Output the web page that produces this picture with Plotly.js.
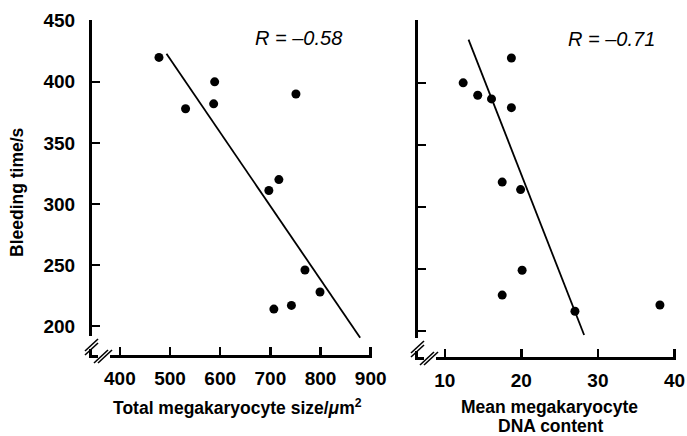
<!DOCTYPE html>
<html>
<head>
<meta charset="utf-8">
<script src="https://cdn.plot.ly/plotly-3.0.1.min.js"></script>
<style>html,body{margin:0;padding:0;background:#fff;}#chart{width:687px;height:436px;}</style>
</head>
<body>
<div id="chart"></div>
<script>
// ---- data ----
const sizeX = [478, 531, 589, 587, 751, 697, 717, 769, 799, 707, 742];
const sizeY = [420, 378, 400, 382, 390, 311, 320, 246, 228, 214, 217];
const dnaX = [12.4, 14.3, 16.1, 18.7, 18.7, 17.5, 19.9, 20.1, 17.5, 27.0, 38.1];
const dnaY = [400, 390, 387, 420, 380, 320, 314, 249, 229, 216, 221];
const fitSizeX = [493, 879];
const fitSizeY = [423, 190.5];
const fitDnaX = [13.1, 28.2];
const fitDnaY = [434.8, 196.8];
const sizeTicks = [400, 500, 600, 700, 800, 900];
const dnaTicks = [10, 20, 30, 40];
const timeTicks = [200, 250, 300, 350, 400, 450];
const rSize = "R = \u20130.58";
const rDna = "R = \u20130.71";

const W = 687, H = 436;
const px = x => x / W;
const py = y => 1 - y / H;
const bold = arr => arr.map(v => '<b>' + v + '</b>');

const font = 'Liberation Sans, Arial, sans-serif';
const markerStyle = {color: '#000', size: 9};
const lineStyle = {color: '#000', width: 1.8};

const traces = [
  {x: sizeX, y: sizeY, type: 'scatter', mode: 'markers', marker: markerStyle, xaxis: 'x', yaxis: 'y', hoverinfo: 'none'},
  {x: fitSizeX, y: fitSizeY, type: 'scatter', mode: 'lines', line: lineStyle, xaxis: 'x', yaxis: 'y', hoverinfo: 'none'},
  {x: dnaX, y: dnaY, type: 'scatter', mode: 'markers', marker: markerStyle, xaxis: 'x2', yaxis: 'y2', hoverinfo: 'none'},
  {x: fitDnaX, y: fitDnaY, type: 'scatter', mode: 'lines', line: lineStyle, xaxis: 'x2', yaxis: 'y2', hoverinfo: 'none'}
];

const axisCommon = {
  showline: true, linecolor: '#000', linewidth: 3,
  ticks: 'inside', ticklen: 8, tickwidth: 2.5, tickcolor: '#000',
  showgrid: false, zeroline: false, fixedrange: true,
  tickfont: {family: font, size: 19, color: '#000'}
};

// axis-break decorations (white gap + double slash) near each corner
function breaks(ax, ay) {
  const s = [];
  const rect = (x0, y0, x1, y1) => ({type: 'rect', xref: 'paper', yref: 'paper', layer: 'above',
    x0: px(x0), x1: px(x1), y0: py(y1), y1: py(y0), fillcolor: '#fff', line: {width: 0}});
  const seg = (x0, y0, x1, y1) => ({type: 'line', xref: 'paper', yref: 'paper', layer: 'above',
    x0: px(x0), y0: py(y0), x1: px(x1), y1: py(y1), line: {color: '#000', width: 1.6}});
  s.push(rect(ax - 3, ay - 19, ax + 3, ay - 6));
  s.push(seg(ax - 7, ay - 4, ax + 6, ay - 16));
  s.push(seg(ax - 7, ay - 0, ax + 6, ay - 12));
  s.push(rect(ax + 6, ay - 3, ax + 18, ay + 3));
  s.push(seg(ax + 2, ay + 8, ax + 16, ay - 5));
  s.push(seg(ax + 6, ay + 8, ax + 20, ay - 5));
  return s;
}

const titleFont = {family: font, size: 17.5, color: '#000'};

const layout = {
  width: W, height: H,
  margin: {l: 0, r: 0, t: 0, b: 0},
  paper_bgcolor: '#fff', plot_bgcolor: '#fff',
  showlegend: false,
  xaxis: Object.assign({}, axisCommon, {domain: [px(92), px(372)], range: [344.5, 902.6],
    tickvals: sizeTicks, ticktext: bold(sizeTicks), ticklabelstandoff: 4, anchor: 'y'}),
  yaxis: Object.assign({}, axisCommon, {domain: [py(355), py(20)], range: [176.4, 450.6],
    tickvals: timeTicks, ticktext: bold(timeTicks), ticklabelstandoff: 10, anchor: 'x'}),
  xaxis2: Object.assign({}, axisCommon, {domain: [px(418), px(676)], range: [6.5, 40.2],
    tickvals: dnaTicks, ticktext: bold(dnaTicks), ticklabelstandoff: 4, anchor: 'y2'}),
  yaxis2: Object.assign({}, axisCommon, {domain: [py(357), py(20)], range: [179.1, 450.6],
    tickvals: timeTicks, showticklabels: false, anchor: 'x2'}),
  shapes: [].concat(breaks(92, 355), breaks(418, 357)),
  annotations: [
    {xref: 'paper', yref: 'paper', x: px(17), y: py(192), text: '<b>Bleeding time/s</b>', textangle: -90, showarrow: false,
      font: titleFont, xanchor: 'center', yanchor: 'middle'},
    {xref: 'paper', yref: 'paper', x: px(237), y: py(407), text: '<b>Total megakaryocyte size/<i>\u03bc</i>m<sup>2</sup></b>', showarrow: false,
      font: titleFont, xanchor: 'center', yanchor: 'middle'},
    {xref: 'paper', yref: 'paper', x: px(549), y: py(407), text: '<b>Mean megakaryocyte</b>', showarrow: false,
      font: titleFont, xanchor: 'center', yanchor: 'middle'},
    {xref: 'paper', yref: 'paper', x: px(550), y: py(426), text: '<b>DNA content</b>', showarrow: false,
      font: titleFont, xanchor: 'center', yanchor: 'middle'},
    {xref: 'paper', yref: 'paper', x: px(298), y: py(38), text: '<i>' + rSize + '</i>', showarrow: false,
      font: {family: font, size: 20, color: '#000'}, xanchor: 'center', yanchor: 'middle'},
    {xref: 'paper', yref: 'paper', x: px(611), y: py(39), text: '<i>' + rDna + '</i>', showarrow: false,
      font: {family: font, size: 20, color: '#000'}, xanchor: 'center', yanchor: 'middle'}
  ]
};

Plotly.newPlot('chart', traces, layout, {staticPlot: true, displayModeBar: false});
</script>
</body>
</html>
